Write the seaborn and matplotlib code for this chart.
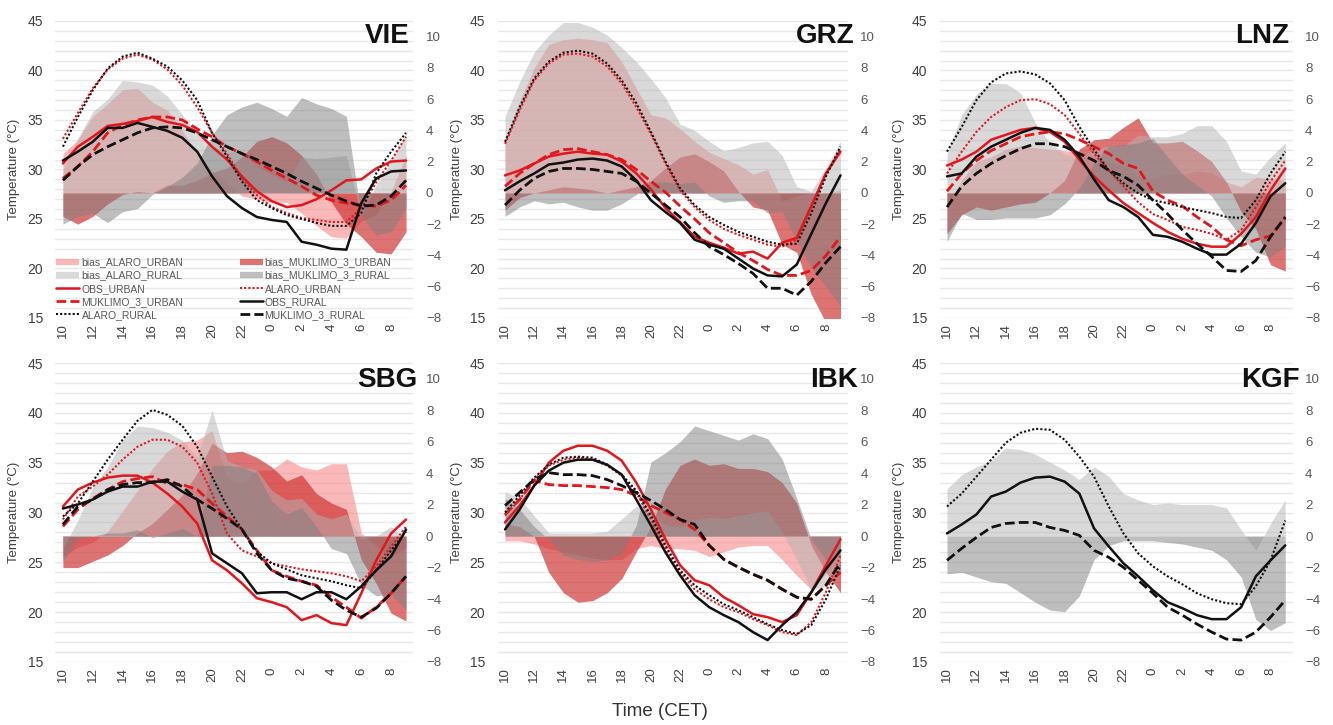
import numpy as np
import pandas as pd
import matplotlib
matplotlib.use("Agg")
import matplotlib.pyplot as plt
import seaborn as sns
from matplotlib.lines import Line2D

# ---------------------------------------------------------------- categories
HOURS = [10, 11, 12, 13, 14, 15, 16, 17, 18, 19, 20, 21, 22, 23,
         0, 1, 2, 3, 4, 5, 6, 7, 8, 9]
TICK_HOURS = [10, 12, 14, 16, 18, 20, 22, 0, 2, 4, 6, 8]
STATIONS = ["VIE", "GRZ", "LNZ", "SBG", "IBK", "KGF"]
X_LABEL = "Time (CET)"
Y_LABEL = "Temperature (°C)"
T_TICKS = [15, 20, 25, 30, 35, 40, 45]
BIAS_TICKS = [-8, -6, -4, -2, 0, 2, 4, 6, 8, 10]

# ---------------------------------------------------------------- VIE
VIE_OBS_URBAN = [30.6, 32.3, 33.3, 34.4, 34.6, 34.9, 35.3, 34.8, 34.5, 33.8, 32.3, 31.0,
                 29.3, 27.8, 26.8, 26.2, 26.4, 27.0, 27.9, 28.9, 29.0, 30.1, 30.8, 30.9]
VIE_OBS_RURAL = [30.9, 31.8, 32.8, 34.2, 34.2, 34.7, 34.3, 33.9, 33.2, 31.8, 29.3, 27.3,
                 26.1, 25.2, 24.9, 24.7, 22.7, 22.4, 22.0, 21.9, 26.6, 29.1, 29.8, 29.9]
VIE_ALARO_URBAN = [33.1, 35.7, 38.2, 40.1, 41.2, 41.6, 41.1, 40.1, 38.5, 36.3, 33.7, 31.6,
                   29.1, 27.4, 26.2, 25.6, 25.1, 24.9, 24.7, 24.7, 26.1, 28.7, 30.9, 33.3]
VIE_ALARO_RURAL = [32.3, 35.3, 38.0, 40.2, 41.4, 41.8, 41.2, 40.4, 39.0, 37.0, 33.7, 31.3,
                   28.8, 26.9, 26.1, 25.4, 25.0, 24.6, 24.3, 24.3, 25.6, 29.6, 31.8, 33.7]
VIE_MUKLIMO_URBAN = [29.1, 30.3, 31.8, 33.7, 34.5, 35.0, 35.3, 35.3, 35.0, 34.1, 33.3, 32.3,
                     31.6, 30.8, 29.9, 29.1, 28.3, 27.4, 26.9, 26.6, 26.4, 26.3, 26.9, 28.4]
VIE_MUKLIMO_RURAL = [28.9, 30.3, 31.5, 32.3, 33.0, 33.7, 34.2, 34.3, 34.2, 33.7, 33.0, 32.3,
                     31.6, 31.0, 30.3, 29.6, 28.8, 28.1, 27.4, 26.8, 26.3, 26.4, 27.3, 28.9]
VIE_BIAS_ALARO_URBAN = [2.5, 3.4, 4.9, 5.7, 6.6, 6.7, 5.8, 5.3, 4.0, 2.5, 1.4, 0.6,
                        -0.2, -0.4, -0.6, -0.6, -1.3, -2.1, -2.8, -2.9, -1.8, -1.4, 0.1, 2.4]
VIE_BIAS_MUKLIMO_URBAN = [-1.5, -2.0, -1.5, -0.7, -0.1, 0.1, 0.0, 0.5, 0.5, 0.8, 1.3, 1.6,
                          2.3, 3.3, 3.6, 3.2, 2.4, 1.2, -0.6, -2.0, -2.8, -3.8, -3.9, -2.5]
VIE_BIAS_ALARO_RURAL = [1.4, 3.5, 5.2, 6.0, 7.2, 7.1, 6.9, 6.2, 5.0, 3.8, 3.0, 2.6,
                        2.7, 1.7, 1.2, 0.7, 2.3, 2.2, 2.3, 2.4, -1.5, 0.5, 2.0, 3.8]
VIE_BIAS_MUKLIMO_RURAL = [-2.0, -1.5, -1.3, -1.9, -1.2, -1.0, -0.1, 0.4, 1.0, 1.9, 3.7, 5.0,
                          5.5, 5.8, 5.4, 4.9, 6.1, 5.7, 5.4, 4.9, -1.5, -2.7, -2.5, -1.0]

# ---------------------------------------------------------------- GRZ
GRZ_OBS_URBAN = [29.4, 29.9, 30.6, 31.3, 31.6, 31.8, 31.6, 31.5, 30.8, 29.6, 28.0, 26.1,
                 24.7, 23.2, 22.6, 22.1, 21.5, 21.7, 21.0, 22.6, 23.1, 26.3, 29.6, 31.8]
GRZ_OBS_RURAL = [27.9, 28.8, 29.6, 30.5, 30.7, 31.0, 31.1, 30.9, 30.3, 28.9, 26.9, 25.7,
                 24.6, 22.9, 22.4, 22.0, 21.0, 20.0, 19.3, 19.2, 20.4, 23.5, 26.6, 29.4]
GRZ_ALARO_URBAN = [32.6, 36.0, 39.0, 40.7, 41.6, 41.7, 41.4, 40.4, 38.7, 36.3, 33.6, 30.6,
                   27.9, 26.2, 24.9, 24.0, 23.4, 22.9, 22.4, 22.2, 22.9, 26.3, 29.6, 32.0]
GRZ_ALARO_RURAL = [32.8, 36.3, 39.2, 40.9, 41.8, 42.0, 41.7, 40.7, 39.0, 36.7, 33.8, 30.8,
                   28.1, 26.4, 25.2, 24.4, 23.7, 23.2, 22.7, 22.4, 22.5, 25.6, 29.3, 32.3]
GRZ_MUKLIMO_URBAN = [28.3, 29.6, 30.6, 31.5, 32.0, 32.1, 31.8, 31.5, 31.0, 30.0, 28.8, 27.7,
                     26.3, 25.0, 23.6, 22.6, 21.6, 20.8, 19.9, 19.3, 19.3, 19.8, 21.3, 23.2]
GRZ_MUKLIMO_RURAL = [26.4, 27.9, 29.1, 29.8, 30.1, 30.1, 30.0, 29.8, 29.6, 28.8, 27.6, 26.4,
                     25.2, 23.6, 22.2, 21.4, 20.5, 19.5, 18.0, 18.0, 17.3, 18.7, 20.6, 22.2]
GRZ_BIAS_ALARO_URBAN = [3.3, 5.9, 8.0, 9.5, 9.8, 9.9, 9.8, 9.6, 8.4, 6.7, 5.0, 4.8,
                        4.1, 3.3, 2.6, 2.2, 1.8, 1.2, 1.5, -0.5, -0.2, 0.0, 0.0, 0.2]
GRZ_BIAS_MUKLIMO_URBAN = [-1.1, -0.3, 0.0, 0.2, 0.4, 0.3, 0.2, 0.0, 0.2, 0.4, 0.8, 1.6,
                          2.3, 2.5, 2.0, 1.4, 0.1, -0.9, -1.1, -3.3, -3.8, -6.5, -8.3, -8.6]
GRZ_BIAS_ALARO_RURAL = [4.9, 7.1, 9.0, 10.1, 10.9, 10.9, 10.6, 10.1, 9.3, 8.4, 7.3, 6.1,
                        4.4, 4.0, 3.3, 2.7, 2.9, 3.2, 3.3, 2.4, 0.4, 0.1, 1.6, 3.3]
GRZ_BIAS_MUKLIMO_RURAL = [-1.5, -0.9, -0.5, -0.7, -0.6, -0.9, -1.1, -1.1, -0.7, -0.1, 0.7, 0.7,
                          0.6, 0.7, -0.2, -0.6, -0.5, -0.5, -1.3, -1.2, -3.1, -4.8, -6.0, -7.2]

# ---------------------------------------------------------------- LNZ
LNZ_OBS_URBAN = [30.4, 31.0, 31.8, 33.0, 33.5, 34.0, 34.2, 33.8, 32.8, 31.0, 29.3, 27.9,
                 26.6, 25.6, 24.6, 23.7, 23.0, 22.5, 22.2, 22.2, 23.5, 25.2, 27.9, 30.1]
LNZ_OBS_RURAL = [29.3, 29.6, 31.3, 32.3, 33.0, 33.7, 34.2, 34.0, 33.0, 31.3, 29.0, 26.9,
                 26.2, 25.2, 23.4, 23.2, 22.7, 22.0, 21.4, 21.4, 22.5, 24.6, 27.3, 28.6]
LNZ_ALARO_URBAN = [29.6, 31.8, 33.8, 35.3, 36.3, 37.0, 37.1, 36.6, 35.5, 33.6, 31.6, 29.9,
                   28.3, 26.7, 25.5, 24.9, 24.2, 23.9, 23.5, 22.9, 23.9, 26.2, 28.8, 30.9]
LNZ_ALARO_RURAL = [31.8, 34.3, 37.0, 38.8, 39.7, 39.9, 39.6, 38.7, 37.0, 34.3, 32.0, 29.9,
                   28.6, 27.6, 26.9, 26.6, 26.2, 25.9, 25.6, 25.2, 25.1, 26.9, 29.6, 31.8]
LNZ_MUKLIMO_URBAN = [27.8, 29.6, 30.9, 31.9, 32.6, 33.3, 33.6, 33.8, 33.6, 33.0, 32.3, 31.6,
                     30.6, 30.1, 27.8, 26.9, 26.3, 25.2, 24.2, 22.9, 22.3, 22.9, 23.3, 25.1]
LNZ_MUKLIMO_RURAL = [26.2, 28.3, 29.6, 30.6, 31.4, 32.1, 32.6, 32.6, 32.3, 31.6, 30.9, 29.9,
                     29.3, 28.4, 26.9, 25.5, 23.9, 22.5, 21.2, 19.8, 19.7, 20.8, 23.2, 25.2]
LNZ_BIAS_ALARO_URBAN = [-0.8, 0.8, 2.0, 2.3, 2.8, 3.0, 2.9, 2.8, 2.7, 2.6, 2.3, 2.0,
                        1.7, 1.1, 0.9, 1.2, 1.2, 1.4, 1.3, 0.7, 0.4, 1.0, 0.9, 0.8]
LNZ_BIAS_MUKLIMO_URBAN = [-2.6, -1.4, -0.9, -1.1, -0.9, -0.7, -0.6, 0.0, 0.8, 2.8, 3.4, 3.5,
                          4.2, 4.8, 3.2, 3.2, 3.3, 2.7, 2.0, 0.7, -1.2, -2.3, -4.6, -5.0]
LNZ_BIAS_ALARO_RURAL = [2.5, 5.0, 6.3, 7.0, 7.0, 6.4, 4.5, 3.2, 2.5, 2.2, 2.8, 3.0,
                        3.0, 3.7, 3.6, 3.6, 3.8, 4.3, 4.3, 3.3, 1.4, 1.2, 2.3, 3.2]
LNZ_BIAS_MUKLIMO_RURAL = [-3.1, -1.3, -1.7, -1.7, -1.6, -1.6, -1.6, -1.4, -0.7, 0.3, 1.9, 3.0,
                          3.1, 3.2, 3.5, 2.3, 1.2, 0.5, -0.2, -1.6, -2.8, -3.8, -4.1, -3.4]

# ---------------------------------------------------------------- SBG
SBG_OBS_URBAN = [30.6, 32.3, 33.0, 33.5, 33.7, 33.7, 33.0, 31.9, 30.6, 28.9, 25.2, 24.2,
                 22.9, 21.4, 21.0, 20.5, 19.2, 19.7, 18.9, 18.7, 21.9, 25.2, 27.9, 29.3]
SBG_OBS_RURAL = [30.4, 30.8, 31.3, 32.1, 32.6, 32.6, 33.1, 33.1, 32.1, 31.3, 25.9, 24.9,
                 23.9, 21.9, 22.0, 22.0, 21.3, 22.0, 22.0, 21.3, 22.6, 24.2, 25.6, 28.3]
SBG_ALARO_URBAN = [29.3, 31.6, 32.6, 33.8, 35.3, 36.6, 37.3, 37.3, 36.6, 35.0, 31.9, 27.9,
                   26.2, 25.6, 24.9, 24.6, 24.3, 24.1, 23.9, 23.6, 23.1, 24.6, 26.6, 28.6]
SBG_ALARO_RURAL = [29.6, 30.9, 33.1, 35.3, 37.3, 39.2, 40.3, 39.8, 38.7, 36.6, 33.6, 30.6,
                   28.3, 26.1, 24.9, 24.3, 23.7, 23.4, 23.1, 22.7, 22.4, 24.2, 26.2, 28.1]
SBG_MUKLIMO_URBAN = [28.6, 30.3, 31.4, 32.3, 33.1, 33.4, 33.6, 32.9, 32.8, 32.3, 30.9, 29.6,
                     28.3, 26.2, 24.2, 23.6, 23.1, 22.7, 21.5, 20.5, 19.4, 20.5, 21.9, 23.6]
SBG_MUKLIMO_RURAL = [28.8, 30.6, 31.3, 32.3, 32.8, 33.0, 33.0, 33.3, 32.6, 31.3, 30.4, 29.4,
                     28.3, 25.9, 24.2, 23.4, 23.1, 22.6, 21.2, 20.2, 19.5, 20.4, 21.9, 23.6]
SBG_BIAS_ALARO_URBAN = [-1.3, -0.7, -0.4, 0.3, 1.6, 2.9, 4.3, 5.4, 6.0, 6.1, 6.7, 3.7,
                        3.3, 4.2, 4.2, 4.9, 4.4, 4.2, 4.6, 4.6, 0.2, -0.6, -1.3, -0.7]
SBG_BIAS_MUKLIMO_URBAN = [-2.0, -2.0, -1.6, -1.2, -0.6, 0.2, 0.8, 1.7, 2.6, 4.0, 5.9, 5.3,
                          5.4, 5.0, 4.4, 3.5, 3.9, 2.7, 2.1, 1.7, -1.5, -3.0, -4.9, -5.4]
SBG_BIAS_ALARO_RURAL = [-0.8, 1.0, 3.1, 4.4, 6.1, 7.0, 6.9, 6.6, 6.1, 5.0, 8.0, 4.8,
                        4.4, 4.2, 2.9, 2.3, 2.4, 1.4, 1.1, 1.4, -0.2, 0.0, 0.6, -0.2]
SBG_BIAS_MUKLIMO_RURAL = [-1.6, -0.2, 0.0, 0.2, 0.2, 0.4, -0.1, 0.2, 0.5, 0.0, 4.5, 4.5,
                          4.4, 4.0, 2.2, 1.4, 1.8, 0.6, -0.8, -1.1, -3.1, -3.8, -3.7, -4.7]

# ---------------------------------------------------------------- IBK
IBK_OBS_URBAN = [29.0, 30.7, 32.7, 35.0, 36.2, 36.7, 36.7, 36.2, 35.2, 33.0, 30.3, 27.3,
                 24.7, 23.2, 22.7, 21.5, 20.7, 19.8, 19.5, 19.0, 19.7, 22.0, 24.7, 27.3]
IBK_OBS_RURAL = [28.3, 30.3, 32.7, 34.2, 35.0, 35.3, 35.3, 34.8, 33.8, 31.3, 28.7, 26.0,
                 23.7, 21.7, 20.5, 19.7, 19.0, 18.0, 17.2, 18.7, 20.0, 22.0, 24.3, 26.2]
IBK_ALARO_URBAN = [29.7, 31.3, 33.3, 34.7, 35.3, 35.5, 35.3, 34.7, 33.7, 32.0, 29.3, 26.3,
                   24.0, 22.3, 21.3, 20.5, 20.0, 19.3, 18.7, 18.0, 17.7, 19.0, 22.0, 25.7]
IBK_ALARO_RURAL = [30.0, 31.7, 33.5, 34.8, 35.5, 35.6, 35.5, 34.8, 33.8, 32.2, 29.7, 26.7,
                   24.2, 22.7, 21.7, 20.8, 20.2, 19.5, 18.8, 18.2, 17.8, 18.7, 21.3, 24.7]
IBK_MUKLIMO_URBAN = [29.8, 31.3, 33.2, 32.8, 32.7, 32.7, 32.6, 32.5, 32.3, 31.7, 30.7, 30.0,
                     29.3, 28.3, 26.7, 25.3, 24.5, 23.8, 23.2, 22.3, 21.5, 21.3, 22.7, 24.0]
IBK_MUKLIMO_RURAL = [30.7, 32.0, 33.3, 34.0, 33.8, 33.8, 33.7, 33.3, 32.7, 32.0, 31.2, 30.3,
                     29.3, 28.8, 26.7, 25.3, 24.5, 23.8, 23.2, 22.3, 21.5, 21.3, 22.7, 25.0]
IBK_BIAS_ALARO_URBAN = [-0.3, -0.3, -0.5, -0.8, -1.0, -1.2, -1.4, -1.5, -1.5, -0.8, -0.6, -0.8,
                        -0.8, -0.9, -1.3, -1.0, -0.7, -0.6, -0.6, -1.5, -2.5, -3.4, -2.4, -1.0]
IBK_BIAS_MUKLIMO_URBAN = [0.8, 0.6, 0.0, -2.3, -3.6, -4.2, -4.1, -3.6, -2.7, -1.0, 0.6, 3.0,
                          4.5, 4.9, 4.5, 4.6, 4.3, 4.3, 4.1, 3.4, 2.1, -0.6, -2.3, -3.6]
IBK_BIAS_ALARO_RURAL = [2.8, 2.4, 1.3, 0.2, 0.2, 0.2, 0.2, 0.3, 1.1, 1.9, 1.5, 0.7,
                        0.6, 1.0, 1.2, 1.1, 1.3, 1.5, 1.6, 0.3, -1.5, -3.4, -3.2, -1.9]
IBK_BIAS_MUKLIMO_RURAL = [2.4, 1.7, 0.6, -0.2, -1.2, -1.5, -1.6, -1.5, -1.1, 0.7, 4.7, 5.3,
                          6.0, 7.0, 6.7, 6.4, 6.1, 6.5, 6.2, 4.9, 2.4, -0.2, -1.5, -0.8]

# ---------------------------------------------------------------- KGF (rural only)
KGF_OBS_RURAL = [27.9, 28.8, 29.8, 31.6, 32.1, 33.0, 33.5, 33.6, 33.1, 31.9, 28.4, 26.6,
                 24.9, 23.6, 22.2, 21.0, 20.4, 19.7, 19.3, 19.3, 20.5, 23.6, 25.2, 26.7]
KGF_ALARO_RURAL = [30.6, 31.9, 33.6, 35.3, 37.0, 38.0, 38.4, 38.3, 37.3, 35.6, 33.6, 30.6,
                   27.9, 25.9, 24.6, 23.6, 22.8, 21.9, 21.3, 20.9, 20.8, 22.6, 25.2, 29.2]
KGF_MUKLIMO_RURAL = [25.2, 26.4, 27.5, 28.5, 28.9, 29.0, 29.0, 28.5, 28.2, 27.7, 26.2, 25.5,
                     24.5, 23.2, 21.9, 20.5, 19.7, 18.8, 18.0, 17.3, 17.2, 18.0, 19.5, 21.2]
KGF_BIAS_ALARO_RURAL = [3.0, 3.9, 4.4, 4.8, 5.6, 5.5, 5.2, 4.7, 4.2, 3.6, 4.4, 3.8,
                        2.7, 2.3, 2.0, 2.1, 2.0, 2.0, 2.0, 1.8, 0.4, -0.9, 0.8, 2.3]
KGF_BIAS_MUKLIMO_RURAL = [-2.4, -2.3, -2.6, -2.9, -3.0, -3.6, -4.2, -4.7, -4.8, -3.8, -1.5, -0.6,
                          -0.3, -0.3, -0.3, -0.4, -0.5, -0.7, -0.9, -1.5, -2.6, -5.3, -6.0, -5.5]

# ---------------------------------------------------------------- assemble
def station(obs_u=None, obs_r=None, al_u=None, al_r=None, mk_u=None, mk_r=None,
            b_al_u=None, b_mk_u=None, b_al_r=None, b_mk_r=None):
    d = {"bias_ALARO_URBAN": b_al_u, "bias_MUKLIMO_3_URBAN": b_mk_u,
         "bias_ALARO_RURAL": b_al_r, "bias_MUKLIMO_3_RURAL": b_mk_r,
         "OBS_URBAN": obs_u, "ALARO_URBAN": al_u, "MUKLIMO_3_URBAN": mk_u,
         "OBS_RURAL": obs_r, "ALARO_RURAL": al_r, "MUKLIMO_3_RURAL": mk_r}
    return {k: v for k, v in d.items() if v is not None}

DATA = {
    "VIE": station(VIE_OBS_URBAN, VIE_OBS_RURAL, VIE_ALARO_URBAN, VIE_ALARO_RURAL,
                   VIE_MUKLIMO_URBAN, VIE_MUKLIMO_RURAL, VIE_BIAS_ALARO_URBAN,
                   VIE_BIAS_MUKLIMO_URBAN, VIE_BIAS_ALARO_RURAL, VIE_BIAS_MUKLIMO_RURAL),
    "GRZ": station(GRZ_OBS_URBAN, GRZ_OBS_RURAL, GRZ_ALARO_URBAN, GRZ_ALARO_RURAL,
                   GRZ_MUKLIMO_URBAN, GRZ_MUKLIMO_RURAL, GRZ_BIAS_ALARO_URBAN,
                   GRZ_BIAS_MUKLIMO_URBAN, GRZ_BIAS_ALARO_RURAL, GRZ_BIAS_MUKLIMO_RURAL),
    "LNZ": station(LNZ_OBS_URBAN, LNZ_OBS_RURAL, LNZ_ALARO_URBAN, LNZ_ALARO_RURAL,
                   LNZ_MUKLIMO_URBAN, LNZ_MUKLIMO_RURAL, LNZ_BIAS_ALARO_URBAN,
                   LNZ_BIAS_MUKLIMO_URBAN, LNZ_BIAS_ALARO_RURAL, LNZ_BIAS_MUKLIMO_RURAL),
    "SBG": station(SBG_OBS_URBAN, SBG_OBS_RURAL, SBG_ALARO_URBAN, SBG_ALARO_RURAL,
                   SBG_MUKLIMO_URBAN, SBG_MUKLIMO_RURAL, SBG_BIAS_ALARO_URBAN,
                   SBG_BIAS_MUKLIMO_URBAN, SBG_BIAS_ALARO_RURAL, SBG_BIAS_MUKLIMO_RURAL),
    "IBK": station(IBK_OBS_URBAN, IBK_OBS_RURAL, IBK_ALARO_URBAN, IBK_ALARO_RURAL,
                   IBK_MUKLIMO_URBAN, IBK_MUKLIMO_RURAL, IBK_BIAS_ALARO_URBAN,
                   IBK_BIAS_MUKLIMO_URBAN, IBK_BIAS_ALARO_RURAL, IBK_BIAS_MUKLIMO_RURAL),
    "KGF": station(obs_r=KGF_OBS_RURAL, al_r=KGF_ALARO_RURAL, mk_r=KGF_MUKLIMO_RURAL,
                   b_al_r=KGF_BIAS_ALARO_RURAL, b_mk_r=KGF_BIAS_MUKLIMO_RURAL),
}

# ---------------------------------------------------------------- styles
RED = "#e3161c"
BLACK = "#111111"
AREA_STYLE = {
    "bias_ALARO_URBAN": dict(color="#f78a8a", alpha=0.6),
    "bias_MUKLIMO_3_URBAN": dict(color="#cc2a2a", alpha=0.65),
    "bias_ALARO_RURAL": dict(color="#b4b4b4", alpha=0.5),
    "bias_MUKLIMO_3_RURAL": dict(color="#7e7e7e", alpha=0.5),
}
DASH = (0, (3.5, 1.5))
DOT = (0, (1, 1))
LINE_STYLE = {
    "OBS_URBAN": dict(color=RED, lw=1.8, ls="-"),
    "ALARO_URBAN": dict(color=RED, lw=1.5, ls=DOT),
    "MUKLIMO_3_URBAN": dict(color=RED, lw=2.0, ls=DASH),
    "OBS_RURAL": dict(color=BLACK, lw=1.8, ls="-"),
    "ALARO_RURAL": dict(color=BLACK, lw=1.5, ls=DOT),
    "MUKLIMO_3_RURAL": dict(color=BLACK, lw=2.0, ls=DASH),
}
LEGEND_ORDER = ["bias_ALARO_URBAN", "bias_ALARO_RURAL", "OBS_URBAN", "MUKLIMO_3_URBAN",
                "ALARO_RURAL", "bias_MUKLIMO_3_URBAN", "bias_MUKLIMO_3_RURAL",
                "ALARO_URBAN", "OBS_RURAL", "MUKLIMO_3_RURAL"]

COL_LEFT = [0.0416, 0.3734, 0.7049]
COL_WIDTH = [0.2686, 0.2626, 0.2648]
ROW_BOTTOM = [0.5614, 0.0869]
ROW_HEIGHT = [0.4097, 0.4124]
TITLE_X = [0.99, 1.02, 0.99, 1.01, 1.03, 1.02]
TITLE_Y = [0.95, 0.95, 0.95, 0.943, 0.943, 0.943]

# ---------------------------------------------------------------- draw
sns.set_theme(style="white")
plt.rcParams["font.family"] = ["Liberation Sans", "DejaVu Sans"]

fig = plt.figure(figsize=(13.33, 7.25), dpi=100)
steps = np.arange(len(HOURS))
tick_pos = [HOURS.index(h) for h in TICK_HOURS]

for k, st in enumerate(STATIONS):
    r, c = divmod(k, 3)
    rect = [COL_LEFT[c], ROW_BOTTOM[r], COL_WIDTH[c], ROW_HEIGHT[r]]
    ax = fig.add_axes(rect)           # temperature scale + grid
    axb = ax.twinx()                  # bias scale (areas)
    axl = ax.twinx()                  # temperature scale (lines)
    d = DATA[st]

    # bias areas
    for name in ["bias_ALARO_URBAN", "bias_MUKLIMO_3_URBAN",
                 "bias_ALARO_RURAL", "bias_MUKLIMO_3_RURAL"]:
        if name in d:
            axb.fill_between(steps, 0, d[name], linewidth=0, **AREA_STYLE[name])

    # temperature lines
    long = pd.DataFrame([(i, h, name, v)
                         for name in LINE_STYLE if name in d
                         for i, (h, v) in enumerate(zip(HOURS, d[name]))],
                        columns=["step", "hour", "series", "temp"])
    for name, sty in LINE_STYLE.items():
        if name not in d:
            continue
        sub = long[long["series"] == name]
        sns.lineplot(data=sub, x="step", y="temp", ax=axl, color=sty["color"],
                     linewidth=sty["lw"], linestyle=sty["ls"], estimator=None,
                     sort=False, legend=False)

    for a in (ax, axl):
        a.set_ylim(15, 45)
    axb.set_ylim(-8, 11)
    ax.set_xlim(-0.5, len(HOURS) - 0.5)

    ax.set_yticks(T_TICKS)
    ax.set_yticks(np.arange(15, 46, 1), minor=True)
    ax.grid(axis="y", which="both", color="#e8e8e8", linewidth=1.0)
    ax.grid(axis="x", visible=False)
    ax.set_xticks(tick_pos)
    ax.set_xticklabels([str(h) for h in TICK_HOURS])
    ax.tick_params(axis="x", length=0, pad=4, labelsize=9.5, labelrotation=90,
                   labelcolor="#404040")
    ax.tick_params(axis="y", which="both", length=0, pad=9, labelsize=10,
                   labelcolor="#404040")
    ax.set_ylabel(Y_LABEL, fontsize=9.5, color="#404040", labelpad=5)
    ax.set_xlabel("")

    axb.set_yticks(BIAS_TICKS)
    axb.tick_params(axis="y", length=0, pad=9, labelsize=9.5, labelcolor="#595959")
    axb.grid(False)

    axl.set_axis_off()
    for a in (ax, axb):
        for s in a.spines.values():
            s.set_visible(False)

    axl.text(TITLE_X[k], TITLE_Y[k], st, transform=ax.transAxes, ha="right",
             va="center", fontsize=20, fontweight="bold", color="#111111")

    if st == "VIE":
        handles = []
        for name in LEGEND_ORDER:
            if name in AREA_STYLE:
                sty = AREA_STYLE[name]
                handles.append(Line2D([], [], color=sty["color"], alpha=sty["alpha"],
                                      lw=4.5, solid_capstyle="butt"))
            else:
                sty = LINE_STYLE[name]
                handles.append(Line2D([], [], color=sty["color"], lw=sty["lw"],
                                      ls=sty["ls"]))
        leg = axl.legend(handles, LEGEND_ORDER, ncol=2, loc="lower left",
                         bbox_to_anchor=(0.0, -0.01), frameon=False, fontsize=7.5,
                         handlelength=2.2, handletextpad=0.2, columnspacing=5.4,
                         labelspacing=0.3, borderaxespad=0.0, borderpad=0.1)
        for t in leg.get_texts():
            t.set_color("#595959")

fig.text(0.495, 0.018, X_LABEL, ha="center", va="center", fontsize=13.5,
         color="#333333")

fig.savefig("out.png", dpi=100)
